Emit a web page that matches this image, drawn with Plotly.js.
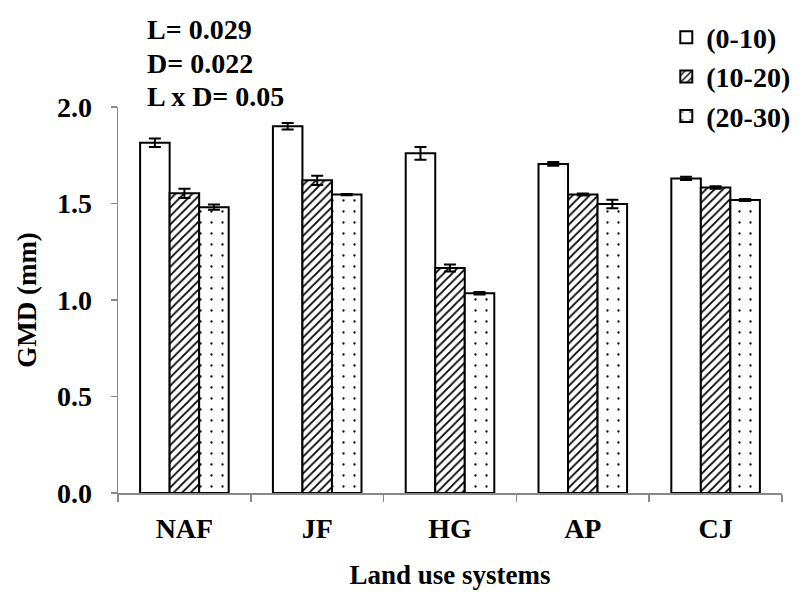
<!DOCTYPE html>
<html>
<head>
<meta charset="utf-8">
<script src="https://cdn.plot.ly/plotly-3.0.1.min.js"></script>
<style>html,body{margin:0;padding:0;background:#fff;}#chart{width:807px;height:597px;}</style>
</head>
<body>
<div id="chart"></div>
<script>
const categories = ['NAF', 'JF', 'HG', 'AP', 'CJ'];
const seriesNames = ['(0-10)', '(10-20)', '(20-30)'];
const depth0_10 = [1.815, 1.90, 1.76, 1.705, 1.63];
const err0_10 = [0.022, 0.017, 0.033, 0.01, 0.008];
const depth10_20 = [1.553, 1.62, 1.166, 1.547, 1.583];
const err10_20 = [0.024, 0.024, 0.018, 0.005, 0.007];
const depth20_30 = [1.481, 1.546, 1.035, 1.497, 1.518];
const err20_30 = [0.014, 0.003, 0.006, 0.022, 0.005];
const statLines = ['L= 0.029', 'D= 0.022', 'L x D= 0.05'];

const FONT = 'Liberation Serif, Times New Roman, serif';
const FS = 28;

function makeTrace(name, vals, errs, pattern) {
  return {
    type: 'bar', name: name, x: categories, y: vals,
    error_y: {type: 'data', array: errs, visible: true, color: '#000', thickness: 2, width: 6},
    marker: {color: '#fff', line: {color: '#000', width: 2}, pattern: pattern}
  };
}

const traces = [
  makeTrace(seriesNames[0], depth0_10, err0_10, {shape: ''}),
  makeTrace(seriesNames[1], depth10_20, err10_20, {shape: '/', fgcolor: '#000', bgcolor: '#fff', size: 6, solidity: 0.3}),
  makeTrace(seriesNames[2], depth20_30, err20_30, {shape: '.', fgcolor: '#000', bgcolor: '#fff', size: 11, solidity: 0.035})
];

const annYs = [1.201, 1.112, 1.028];
const annotations = statLines.map((t, i) => ({
  text: t, xref: 'paper', yref: 'paper', x: 0.04, y: annYs[i],
  xanchor: 'left', yanchor: 'middle', showarrow: false,
  font: {family: FONT, size: FS, color: '#000', weight: 'bold'}
}));

const layout = {
  width: 807, height: 597,
  margin: {l: 118, r: 14, t: 100, b: 104},
  paper_bgcolor: '#fff', plot_bgcolor: '#fff',
  barmode: 'group', bargap: 0.333, bargroupgap: 0,
  showlegend: true,
  legend: {
    x: 1.02, y: 1.245, xanchor: 'right', yanchor: 'top',
    bgcolor: 'rgba(0,0,0,0)', traceorder: 'normal',
    itemwidth: 30,
    font: {family: FONT, size: FS, color: '#000', weight: 'bold'}
  },
  xaxis: {
    showline: true, linecolor: '#888', linewidth: 1.5,
    ticks: 'outside', tickson: 'boundaries', ticklen: 7, tickcolor: '#888', tickwidth: 1.5,
    ticklabelstandoff: 10,
    tickfont: {family: FONT, size: FS, color: '#000', weight: 'bold'},
    title: {text: 'Land use systems', standoff: 22, font: {family: FONT, size: 27, color: '#000', weight: 'bold'}},
    showgrid: false, zeroline: false
  },
  yaxis: {
    range: [0, 2], dtick: 0.5, tick0: 0, tickformat: '.1f',
    showline: true, linecolor: '#888', linewidth: 1.5,
    ticks: 'outside', ticklen: 6, tickcolor: '#888', tickwidth: 1.5,
    ticklabelstandoff: 13,
    tickfont: {family: FONT, size: FS, color: '#000', weight: 'bold'},
    title: {text: 'GMD (mm)', standoff: 12, font: {family: FONT, size: 27, color: '#000', weight: 'bold'}},
    showgrid: false, zeroline: false
  },
  annotations: annotations
};

Plotly.newPlot('chart', traces, layout, {staticPlot: true, displayModeBar: false});
</script>
</body>
</html>
